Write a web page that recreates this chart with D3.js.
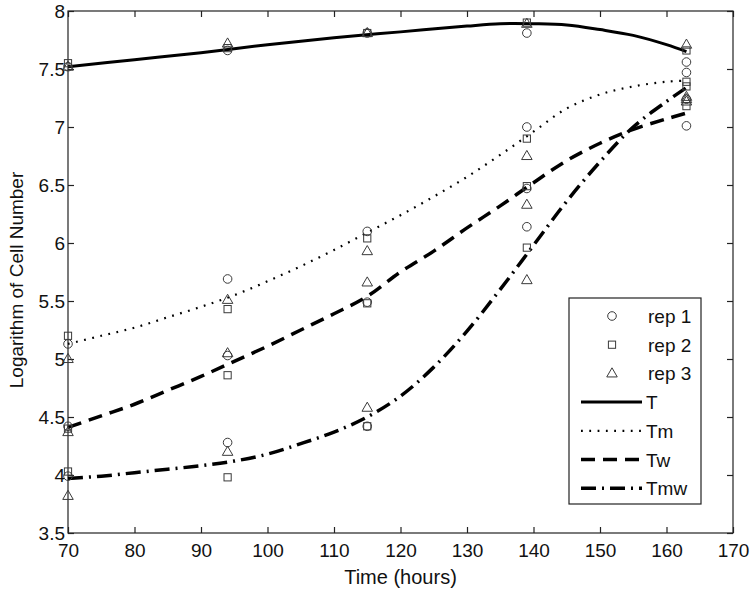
<!DOCTYPE html>
<html>
<head>
<meta charset="utf-8">
<script src="https://cdn.jsdelivr.net/npm/d3@7"></script>
<style>
  body { margin: 0; background: #fff; }
  text { font-family: "Liberation Sans", Arial, sans-serif; fill: #111; }
</style>
</head>
<body>
<script>
// sample times (hours)
const times = [70, 94, 115, 139, 163];

// replicate measurements, one row per group (T, Tm, Tw, Tmw)
const rep1 = [
  [7.52, 7.66, 7.81, 7.81, 7.56],
  [5.13, 5.69, 6.10, 7.00, 7.47],
  [4.42, 5.03, 5.49, 6.47, 7.01],
  [3.99, 4.28, 4.42, 6.14, 7.24]
];
const rep2 = [
  [7.55, 7.68, 7.81, 7.90, 7.66],
  [5.20, 5.43, 6.04, 6.90, 7.39],
  [4.40, 4.86, 5.48, 6.49, 7.18],
  [4.03, 3.98, 4.42, 5.96, 7.35]
];
const rep3 = [
  [7.52, 7.72, 7.81, 7.89, 7.71],
  [5.00, 5.51, 5.93, 6.75, 7.26],
  [4.37, 5.05, 5.66, 6.33, 7.24],
  [3.82, 4.20, 4.58, 5.68, 7.22]
];

// fitted curves
const curveT = [70, 80, 90, 100, 110, 120, 130, 135, 140, 145, 150, 155, 160, 163];
const fitT   = [7.52, 7.58, 7.64, 7.71, 7.77, 7.82, 7.87, 7.89, 7.89, 7.88, 7.84, 7.79, 7.71, 7.65];
const curveX = [70, 75, 80, 85, 90, 95, 100, 105, 110, 115, 120, 125, 130, 135, 140, 145, 150, 155, 160, 163];
const fitTm  = [5.13, 5.20, 5.27, 5.36, 5.45, 5.55, 5.67, 5.80, 5.94, 6.09, 6.24, 6.40, 6.57, 6.76, 6.96, 7.16, 7.28, 7.35, 7.39, 7.40];
const fitTw  = [4.41, 4.51, 4.61, 4.73, 4.85, 4.98, 5.11, 5.25, 5.39, 5.54, 5.75, 5.93, 6.13, 6.32, 6.52, 6.71, 6.86, 6.98, 7.07, 7.12];
const fitTmw = [3.97, 3.99, 4.02, 4.05, 4.08, 4.12, 4.18, 4.27, 4.37, 4.50, 4.68, 4.93, 5.24, 5.60, 5.98, 6.36, 6.70, 7.00, 7.22, 7.34];

const xTicks = [70, 80, 90, 100, 110, 120, 130, 140, 150, 160, 170];
const yTicks = [3.5, 4, 4.5, 5, 5.5, 6, 6.5, 7, 7.5, 8];

const repNames = ["rep 1", "rep 2", "rep 3"];
const fitNames = ["T", "Tm", "Tw", "Tmw"];

let width = 750, height = 592;
let mLeft = 68, mRight = 733, mTop = 11, mBottom = 533;
let fs = 19;

let svg = d3.select("body").append("svg")
  .attr("width", width).attr("height", height);

let x = d3.scaleLinear().domain([70, 170]).range([mLeft, mRight]);
let y = d3.scaleLinear().domain([3.5, 8]).range([mBottom, mTop]);

// line styles for the four fits
const styles = [
  { w: 3, dash: null },
  { w: 2.2, dash: "1.8,6.5" },
  { w: 3.5, dash: "14,8" },
  { w: 3.5, dash: "15,6,2,6" }
];

// frame
svg.append("rect")
  .attr("x", mLeft).attr("y", mTop)
  .attr("width", mRight - mLeft).attr("height", mBottom - mTop)
  .attr("fill", "none").attr("stroke", "#222").attr("stroke-width", 1.2);

// ticks inward, on all four sides
let tl = 6;
let bx = svg.append("g").attr("transform", "translate(0," + mBottom + ")")
  .call(d3.axisBottom(x).tickValues(xTicks).tickSizeInner(-tl).tickSizeOuter(0).tickPadding(11));
let ly = svg.append("g").attr("transform", "translate(" + mLeft + ",0)")
  .call(d3.axisLeft(y).tickValues(yTicks).tickSizeInner(-tl).tickSizeOuter(0).tickPadding(3).tickFormat(d3.format("")));
let tx = svg.append("g").attr("transform", "translate(0," + mTop + ")")
  .call(d3.axisTop(x).tickValues(xTicks).tickSizeInner(-tl).tickSizeOuter(0).tickFormat(""));
let ry = svg.append("g").attr("transform", "translate(" + mRight + ",0)")
  .call(d3.axisRight(y).tickValues(yTicks).tickSizeInner(-tl).tickSizeOuter(0).tickFormat(""));

[bx, ly, tx, ry].forEach(g => {
  g.select(".domain").remove();
  g.selectAll(".tick line").attr("stroke", "#222").attr("stroke-width", 1.2);
  g.selectAll("text").attr("font-size", fs).attr("font-family", "Liberation Sans, Arial, sans-serif").attr("fill", "#111");
});

// axis titles
svg.append("text")
  .attr("x", (mLeft + mRight) / 2).attr("y", 584)
  .attr("text-anchor", "middle").attr("font-size", 20)
  .text("Time (hours)");
svg.append("text")
  .attr("transform", "translate(23," + ((mTop + mBottom) / 2 + 8) + ") rotate(-90)")
  .attr("text-anchor", "middle").attr("font-size", fs)
  .text("Logarithm of Cell Number");

// fitted curves
let line = d3.line().x(d => x(d[0])).y(d => y(d[1])).curve(d3.curveCatmullRom);
let fits = [
  curveT.map((t, i) => [t, fitT[i]]),
  curveX.map((t, i) => [t, fitTm[i]]),
  curveX.map((t, i) => [t, fitTw[i]]),
  curveX.map((t, i) => [t, fitTmw[i]])
];
fits.forEach((f, i) => {
  svg.append("path").datum(f)
    .attr("d", line)
    .attr("fill", "none").attr("stroke", "#000")
    .attr("stroke-width", styles[i].w)
    .attr("stroke-dasharray", styles[i].dash);
});

// markers
const markColor = "#3a3a3a";
function marker(g, kind, cx, cy) {
  if (kind === 0) {
    g.append("circle").attr("cx", cx).attr("cy", cy).attr("r", 4.3)
      .attr("fill", "none").attr("stroke", markColor).attr("stroke-width", 1);
  } else if (kind === 1) {
    g.append("rect").attr("x", cx - 3.6).attr("y", cy - 3.6).attr("width", 7.2).attr("height", 7.2)
      .attr("fill", "none").attr("stroke", markColor).attr("stroke-width", 1);
  } else {
    g.append("path").attr("d", d3.symbol().type(d3.symbolTriangle).size(48)())
      .attr("transform", "translate(" + cx + "," + (cy + 0.5) + ")")
      .attr("fill", "none").attr("stroke", markColor).attr("stroke-width", 1);
  }
}

let pts = svg.append("g");
[rep1, rep2, rep3].forEach((rep, k) => {
  rep.forEach(row => {
    row.forEach((v, j) => marker(pts, k, x(times[j]), y(v)));
  });
});

// legend
let lg = svg.append("g");
lg.append("rect")
  .attr("x", 569).attr("y", 298).attr("width", 132).attr("height", 206)
  .attr("fill", "#fff").attr("stroke", "#222").attr("stroke-width", 1.2);
let rowY = i => 316 + i * 28.7;
repNames.forEach((n, i) => {
  marker(lg, i, 612, rowY(i));
  lg.append("text").attr("x", 648).attr("y", rowY(i) + 7).attr("font-size", fs).text(n);
});
fitNames.forEach((n, i) => {
  let yy = rowY(i + 3);
  lg.append("line")
    .attr("x1", 581).attr("x2", 642).attr("y1", yy).attr("y2", yy)
    .attr("stroke", "#000").attr("stroke-width", styles[i].w)
    .attr("stroke-dasharray", styles[i].dash);
  lg.append("text").attr("x", 646).attr("y", yy + 7).attr("font-size", fs).text(n);
});
</script>
</body>
</html>
